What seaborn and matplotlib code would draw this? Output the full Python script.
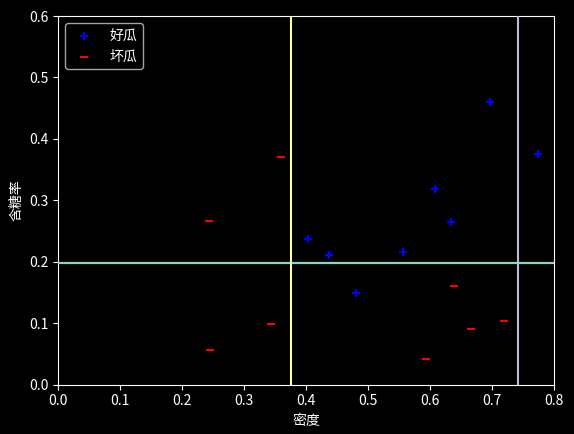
import matplotlib.pyplot as plt
import seaborn as sns

# 西瓜数据集 3.0α: 密度, 含糖率
good_density = [0.697, 0.774, 0.634, 0.608, 0.556, 0.403, 0.481, 0.437]
good_sugar = [0.460, 0.376, 0.264, 0.318, 0.215, 0.237, 0.149, 0.211]
bad_density = [0.666, 0.243, 0.245, 0.343, 0.639, 0.657, 0.360, 0.593, 0.719]
bad_sugar = [0.091, 0.267, 0.057, 0.099, 0.161, 0.198, 0.370, 0.042, 0.103]

# 决策树桩的划分阈值
v_splits = [0.376, 0.742]
h_splits = [0.1985]

plt.style.use('dark_background')
plt.rcParams['font.family'] = ['Noto Sans CJK SC', 'DejaVu Sans']
plt.rcParams['axes.unicode_minus'] = False

fig, ax = plt.subplots(figsize=(5.74, 4.34), dpi=100)
fig.subplots_adjust(left=0.101, right=0.965, top=0.963, bottom=0.114)

sns.scatterplot(x=good_density, y=good_sugar, marker='+', color='blue', s=36,
                linewidth=1.5, label='好瓜', ax=ax)
sns.scatterplot(x=bad_density, y=bad_sugar, marker='_', color='red', s=36,
                linewidth=1.5, label='坏瓜', ax=ax)

ax.axhline(h_splits[0], color='#8dd3c7', linewidth=1.6, zorder=3)
ax.axvline(v_splits[0], color='#feffb3', linewidth=1.5, zorder=3)
ax.axvline(v_splits[1], color='#bfbbd9', linewidth=1.5, zorder=3)

ax.set_xlim(0, 0.8)
ax.set_ylim(0, 0.6)
ax.set_xlabel('密度')
ax.set_ylabel('含糖率')
ax.legend(loc='upper left')

plt.savefig('out.png')
